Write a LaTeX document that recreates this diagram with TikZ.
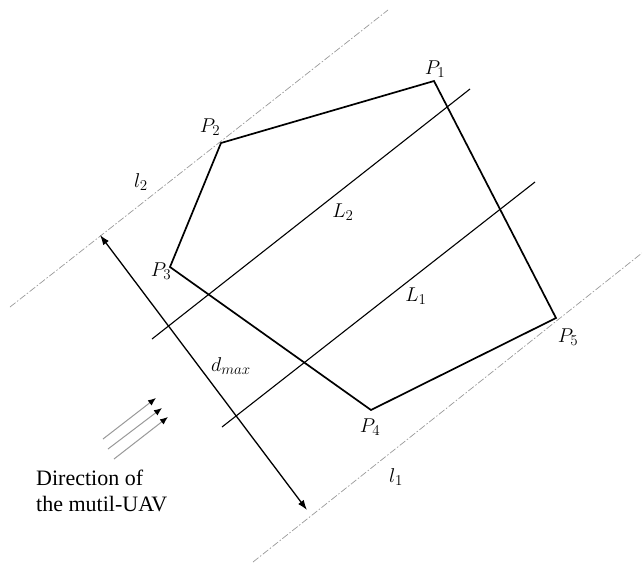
\documentclass[tikz,border=0pt]{standalone}
\usepackage{fix-cm}
\usepackage{fontspec}
\newfontfamily\timesfont{Liberation Serif}
\DeclareMathSizes{20}{20}{15}{12}
\usetikzlibrary{arrows.meta}
\begin{document}
\begin{tikzpicture}[x=1pt,y=-1pt,
  poly/.style={line width=1.7pt, line join=miter},
  sweep/.style={line width=1.1pt},
  bound/.style={gray!80, line width=0.7pt, dash pattern=on 7pt off 2pt on 1.5pt off 2pt},
  dim/.style={line width=1.3pt, {Latex[length=10pt,width=7pt]}-{Latex[length=10pt,width=7pt]}},
  flow/.style={gray!80, line width=1pt, -{Latex[length=8pt,width=6.5pt,color=black]}},
  lbl/.style={font=\fontsize{20}{24}\selectfont, inner sep=0pt},
  txt/.style={font=\timesfont\fontsize{22}{26}\selectfont, inner sep=0pt, align=left},
]
\useasboundingbox (0,0) rectangle (642,562);
% polygon vertices
\coordinate (P1) at (434,81);
\coordinate (P2) at (221,143);
\coordinate (P3) at (170,267);
\coordinate (P4) at (371,410);
\coordinate (P5) at (556,318);
% boundary lines
\coordinate (l2a) at (10,307);
\coordinate (l2b) at (388,10);
\coordinate (l1a) at (253,562);
\coordinate (l1b) at (642,253);
% sweep lines
\coordinate (L2a) at (152,339);
\coordinate (L2b) at (470,89);
\coordinate (L1a) at (222,427);
\coordinate (L1b) at (535,182);
% dmax ends
\coordinate (Da) at (100,235);
\coordinate (Db) at (307,510);
% flow arrows
\coordinate (f1a) at (103,439); \coordinate (f1b) at (156,398);
\coordinate (f2a) at (108,449); \coordinate (f2b) at (162,408);
\coordinate (f3a) at (114,459); \coordinate (f3b) at (168,417);

\draw[bound] (l2a) -- (l2b);
\draw[bound] (l1a) -- (l1b);
\draw[sweep] (L2a) -- (L2b);
\draw[sweep] (L1a) -- (L1b);
\draw[poly] (P1) -- (P2) -- (P3) -- (P4) -- (P5) -- cycle;
\draw[dim] (Da) -- (Db);
\draw[flow] (f1a) -- (f1b);
\draw[flow] (f2a) -- (f2b);
\draw[flow] (f3a) -- (f3b);

\node[lbl] (tP1) at (435,69) {$P_1$};
\node[lbl] (tP2) at (210,127) {$P_2$};
\node[lbl] (tP3) at (161,271) {$P_3$};
\node[lbl] (tP4) at (370,427) {$P_4$};
\node[lbl] (tP5) at (568,337) {$P_5$};
\node[lbl] (tL1) at (416,296) {$L_1$};
\node[lbl] (tL2) at (343,212) {$L_2$};
\node[lbl] (tl1) at (396,477) {$l_1$};
\node[lbl] (tl2) at (141,182) {$l_2$};
\node[lbl] (tdm) at (231,366) {$d_{max}$};
\node[txt, anchor=north west] (dir) at (36,470) {Direction of\\the mutil-UAV};
\end{tikzpicture}
\end{document}
